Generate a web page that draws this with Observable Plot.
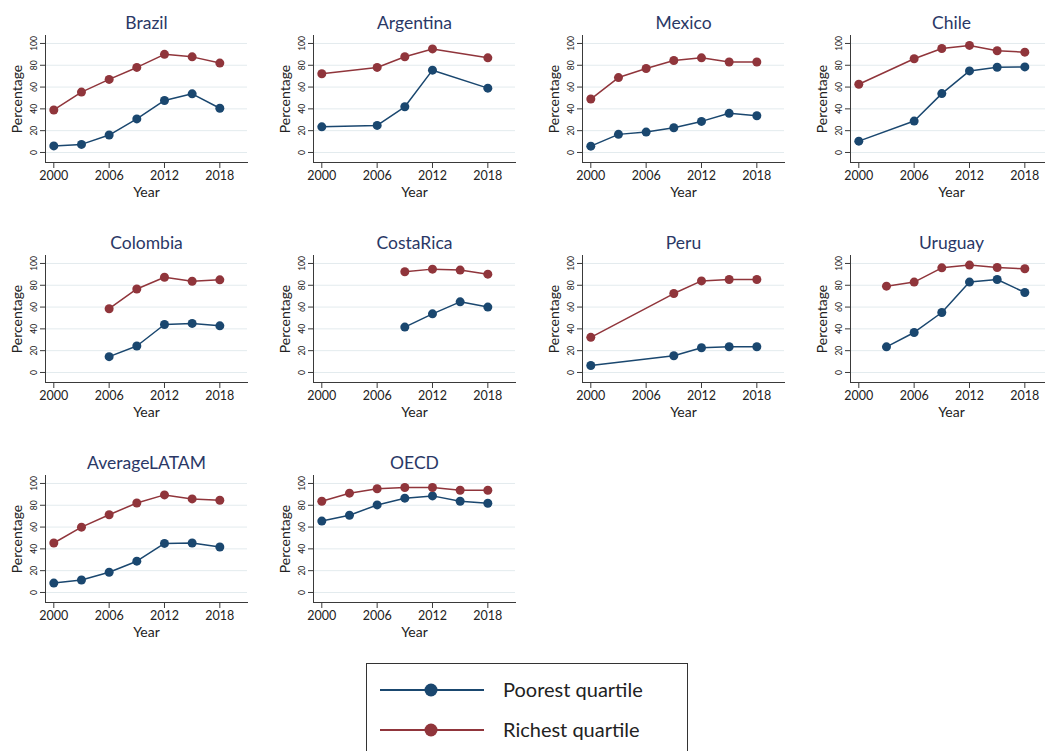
<!DOCTYPE html>
<html>
<head>
<meta charset="utf-8">
<script src="https://cdn.jsdelivr.net/npm/d3@7"></script>
<script src="https://cdn.jsdelivr.net/npm/@observablehq/plot@0.6"></script>
<style>
  html, body { margin: 0; padding: 0; background: #ffffff; overflow: hidden; }
  #root { position: relative; width: 1045px; height: 751px; overflow: hidden; font-family: Lato, "DejaVu Sans", sans-serif; }
  .panel { position: absolute; width: 268px; height: 210px; }
  .panel svg { max-width: none !important; display: block; }
  #legend { position: absolute; left: 366px; top: 663px; width: 322px; height: 110px; border: 1.5px solid #333; box-sizing: border-box; background: #fff; }
</style>
</head>
<body>
<div id="root"></div>
<script>
// ---- data ----
const years = [2000, 2003, 2006, 2009, 2012, 2015, 2018];
const xTicks = [2000, 2006, 2012, 2018];
const yTicks = [0, 20, 40, 60, 80, 100];
const countries = ["Brazil", "Argentina", "Mexico", "Chile", "Colombia", "CostaRica", "Peru", "Uruguay", "AverageLATAM", "OECD"];
const seriesNames = ["Poorest quartile", "Richest quartile"];
// values aligned with years; null = not available
const poorest = [
  [6.0, 7.4, 16.0, 30.8, 47.7, 53.8, 40.6],     // Brazil
  [23.5, null, 24.8, 41.9, 75.5, null, 59.0],   // Argentina
  [5.8, 16.6, 18.7, 22.7, 28.5, 35.9, 33.7],    // Mexico
  [10.4, null, 28.8, 54.0, 74.8, 78.2, 78.5],   // Chile
  [null, null, 14.5, 24.3, 44.0, 45.0, 42.8],   // Colombia
  [null, null, null, 41.6, 53.8, 64.8, 60.0],   // CostaRica
  [6.4, null, null, 15.3, 22.7, 23.6, 23.6],    // Peru
  [null, 23.5, 36.7, 55.0, 82.9, 85.3, 73.4],   // Uruguay
  [8.6, 11.4, 18.5, 28.7, 45.0, 45.4, 41.7],    // AverageLATAM
  [65.5, 70.8, 80.3, 86.5, 88.6, 83.7, 81.8]    // OECD
];
const richest = [
  [39.0, 55.4, 67.0, 78.0, 90.0, 87.7, 82.0],   // Brazil
  [72.2, null, 78.0, 87.8, 95.0, null, 86.8],   // Argentina
  [49.0, 68.7, 77.0, 84.4, 86.8, 83.0, 83.0],   // Mexico
  [62.6, null, 86.0, 95.4, 98.2, 93.3, 92.0],   // Chile
  [null, null, 58.5, 76.6, 87.4, 83.7, 85.0],   // Colombia
  [null, null, null, 92.4, 94.8, 93.9, 90.2],   // CostaRica
  [32.2, null, null, 72.4, 84.0, 85.3, 85.3],   // Peru
  [null, 79.2, 82.9, 96.0, 98.5, 96.3, 95.1],   // Uruguay
  [45.4, 59.9, 71.3, 82.1, 89.5, 85.8, 84.6],   // AverageLATAM
  [83.7, 91.1, 95.1, 96.3, 96.3, 93.8, 93.8]    // OECD
];

// ---- styles ----
const colors = ["#1a476f", "#90353b"];
const titleColor = "#2a3866";
const gridColor = "#e3ebee";
const axisColor = "#3a3a3a";
const font = "Lato, 'DejaVu Sans', sans-serif";

const colLeft = [0, 268, 537, 805];
const rowTop = [0, 220, 440];

const root = document.getElementById("root");

countries.forEach((name, i) => {
  const rows = [];
  [poorest[i], richest[i]].forEach((vals, s) => {
    vals.forEach((v, j) => {
      if (v != null) rows.push({ year: years[j], value: v, series: seriesNames[s] });
    });
  });
  const chart = Plot.plot({
    width: 268,
    height: 210,
    marginLeft: 45,
    marginRight: 21,
    marginTop: 35,
    marginBottom: 48,
    x: { domain: [1999.1, 2021], axis: null },
    y: { domain: [-9.2, 107.3], axis: null },
    color: { domain: seriesNames, range: colors },
    style: { fontFamily: font, background: "transparent", overflow: "visible" },
    marks: [
      Plot.gridY(yTicks, { stroke: gridColor, strokeOpacity: 1, strokeWidth: 1 }),
      Plot.axisY(yTicks, { tickSize: 5, tickRotate: -90, tickPadding: 4, fontSize: 8.5, label: null, color: axisColor, fill: "#222" }),
      Plot.axisX(xTicks, { tickSize: 6, tickPadding: 3, fontSize: 12.5, tickFormat: d => String(d), label: null, color: axisColor, fill: "#222" }),
      Plot.frame({ anchor: "left", stroke: axisColor, strokeWidth: 1 }),
      Plot.frame({ anchor: "bottom", stroke: axisColor, strokeWidth: 1 }),
      Plot.line(rows, { x: "year", y: "value", z: "series", stroke: "series", strokeWidth: 1.5 }),
      Plot.dot(rows, { x: "year", y: "value", fill: "series", r: 4.5 }),
      Plot.text([name], { frameAnchor: "top", lineAnchor: "middle", textAnchor: "middle", dy: -12, fontSize: 17.5, fill: titleColor }),
      Plot.text(["Percentage"], { frameAnchor: "left", lineAnchor: "middle", textAnchor: "middle", dx: -28, rotate: -90, fontSize: 14, fill: "#222" }),
      Plot.text(["Year"], { frameAnchor: "bottom", lineAnchor: "middle", textAnchor: "middle", dy: 30, fontSize: 14, fill: "#222" })
    ]
  });
  const div = document.createElement("div");
  div.className = "panel";
  div.style.left = colLeft[i % 4] + "px";
  div.style.top = rowTop[Math.floor(i / 4)] + "px";
  div.appendChild(chart);
  root.appendChild(div);
});

// ---- legend ----
const legend = document.createElement("div");
legend.id = "legend";
const ns = "http://www.w3.org/2000/svg";
const svg = document.createElementNS(ns, "svg");
svg.setAttribute("width", "320");
svg.setAttribute("height", "110");
seriesNames.forEach((label, s) => {
  const cy = 26 + s * 40;
  const line = document.createElementNS(ns, "line");
  line.setAttribute("x1", 13); line.setAttribute("x2", 117);
  line.setAttribute("y1", cy); line.setAttribute("y2", cy);
  line.setAttribute("stroke", colors[s]); line.setAttribute("stroke-width", 2);
  svg.appendChild(line);
  const c = document.createElementNS(ns, "circle");
  c.setAttribute("cx", 64); c.setAttribute("cy", cy); c.setAttribute("r", 6.5);
  c.setAttribute("fill", colors[s]);
  svg.appendChild(c);
  const t = document.createElementNS(ns, "text");
  t.setAttribute("x", 136); t.setAttribute("y", cy);
  t.setAttribute("dy", "0.35em");
  t.setAttribute("font-size", 20);
  t.setAttribute("font-family", font);
  t.setAttribute("fill", "#222");
  t.textContent = label;
  svg.appendChild(t);
});
legend.appendChild(svg);
root.appendChild(legend);
</script>
</body>
</html>
